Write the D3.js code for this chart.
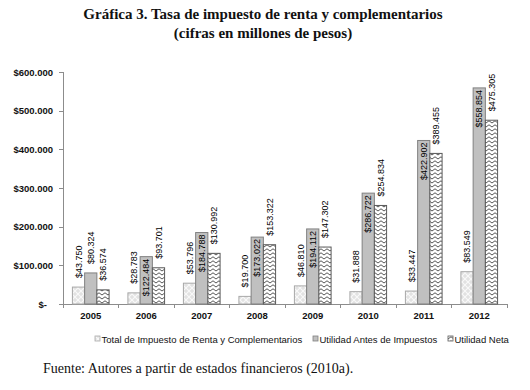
<!DOCTYPE html>
<html>
<head>
<meta charset="utf-8">
<script src="https://cdn.jsdelivr.net/npm/d3@7"></script>
<style>
  body { margin: 0; background: #fff; }
  svg { display: block; }
  .axis path, .axis line { stroke: #8c8c8c; shape-rendering: crispEdges; }
  .axis text { font-family: "Liberation Sans", Arial, sans-serif; font-size: 9.5px; font-weight: bold; fill: #111; }
</style>
</head>
<body>
<div id="chart"></div>
<script>
// data (millones de pesos)
var years = ["2005", "2006", "2007", "2008", "2009", "2010", "2011", "2012"];
var seriesNames = ["Total de Impuesto de Renta y Complementarios", "Utilidad Antes de Impuestos", "Utilidad Neta"];
var impuesto = [43750, 28783, 53796, 19700, 46810, 31888, 33447, 83549];
var utilidadAntes = [80324, 122484, 184788, 173022, 194112, 286722, 422902, 558854];
var utilidadNeta = [36574, 93701, 130992, 153322, 147302, 254834, 389455, 475305];
var yTicks = [0, 100000, 200000, 300000, 400000, 500000, 600000];

var seriesValues = [impuesto, utilidadAntes, utilidadNeta];

var width = 530, height = 390;
var margin = { top: 72, left: 63, right: 23, bottom: 86 };

var svg = d3.select("#chart").append("svg")
    .attr("width", width)
    .attr("height", height);

// patterns
var defs = svg.append("defs");
var p1 = defs.append("pattern")
    .attr("id", "cross")
    .attr("patternUnits", "userSpaceOnUse")
    .attr("width", 6).attr("height", 6);
p1.append("rect").attr("width", 6).attr("height", 6).attr("fill", "#e2e2e2");
p1.append("path").attr("d", "M0,0L6,6M6,0L0,6")
    .attr("stroke", "#f9f9f9").attr("stroke-width", 1.2);

var p3 = defs.append("pattern")
    .attr("id", "zigzag")
    .attr("patternUnits", "userSpaceOnUse")
    .attr("width", 6).attr("height", 4);
p3.append("rect").attr("width", 6).attr("height", 4).attr("fill", "#fff");
p3.append("path").attr("d", "M0,3L3,0.8L6,3")
    .attr("fill", "none").attr("stroke", "#444").attr("stroke-width", 0.9);

var fills = ["url(#cross)", "#c0c0c0", "url(#zigzag)"];
var strokes = ["#a8a8a8", "#808080", "#5a5a5a"];

// scales
var x = d3.scaleBand()
    .domain(years)
    .range([margin.left, width - margin.right]);
var x1 = d3.scaleBand()
    .domain(d3.range(3))
    .range([0, x.bandwidth()])
    .paddingOuter(0.77);
var y = d3.scaleLinear()
    .domain([0, 600000])
    .range([height - margin.bottom, margin.top]);

function money(v) {
    if (v === 0) return "$-";
    return "$" + d3.format(",")(v).replace(/,/g, ".");
}

// axes
var yAxis = d3.axisLeft(y)
    .tickValues(yTicks)
    .tickSize(4)
    .tickPadding(6)
    .tickFormat(money);
var gy = svg.append("g")
    .attr("class", "axis")
    .attr("transform", "translate(" + margin.left + ",0)")
    .call(yAxis);
gy.selectAll(".tick").filter(function(d) { return d === 0; })
    .select("text").attr("dx", -6);

var xAxis = d3.axisBottom(x).tickSize(0).tickPadding(8);
var gx = svg.append("g")
    .attr("class", "axis")
    .attr("transform", "translate(0," + y(0) + ")")
    .call(xAxis);
gx.select(".domain").attr("d", "M" + margin.left + ",0H" + (width - margin.right));
gx.selectAll(".boundary")
    .data(d3.range(years.length + 1))
    .enter().append("line")
    .attr("x1", function(i) { return margin.left + i * x.bandwidth(); })
    .attr("x2", function(i) { return margin.left + i * x.bandwidth(); })
    .attr("y1", 0).attr("y2", 4)
    .attr("stroke", "#8c8c8c");

// bars
var rows = [];
years.forEach(function(yr, i) {
    seriesValues.forEach(function(vals, s) {
        rows.push({ year: yr, s: s, value: vals[i] });
    });
});

svg.append("g").selectAll("rect")
    .data(rows)
    .enter().append("rect")
    .attr("x", function(d) { return x(d.year) + x1(d.s); })
    .attr("y", function(d) { return y(d.value); })
    .attr("width", x1.bandwidth())
    .attr("height", function(d) { return y(0) - y(d.value); })
    .attr("fill", function(d) { return fills[d.s]; })
    .attr("stroke", function(d) { return strokes[d.s]; })
    .attr("stroke-width", 1);

// data labels (rotated), Utilidad Antes inside the bar when it fits
function isInside(d) { return d.s === 1 && y(0) - y(d.value) > 40; }

svg.append("g").selectAll("text")
    .data(rows)
    .enter().append("text")
    .attr("transform", function(d) {
        var cx = x(d.year) + x1(d.s) + x1.bandwidth() / 2;
        var ty = isInside(d) ? y(d.value) + 2 : y(d.value) - 9;
        return "translate(" + cx + "," + ty + ") rotate(-90)";
    })
    .attr("text-anchor", function(d) { return isInside(d) ? "end" : "start"; })
    .attr("dy", "0.35em")
    .style("font-family", "'Liberation Sans', Arial, sans-serif")
    .style("font-size", "9px")
    .style("fill", "#000")
    .text(function(d) { return money(d.value); });

// legend
var legendX = [95, 313, 448];
var legend = svg.append("g").selectAll("g")
    .data(seriesNames)
    .enter().append("g")
    .attr("transform", function(d, i) { return "translate(" + legendX[i] + ",336)"; });
legend.append("rect")
    .attr("width", 5).attr("height", 5)
    .attr("fill", function(d, i) { return fills[i]; })
    .attr("stroke", function(d, i) { return strokes[i]; })
    .attr("stroke-width", 0.8);
legend.append("text")
    .attr("x", 6.5).attr("y", 6.5)
    .style("font-family", "'Liberation Sans', Arial, sans-serif")
    .style("font-size", "9.5px")
    .style("fill", "#111")
    .text(function(d) { return d; });

// title
var title = svg.append("text")
    .attr("text-anchor", "middle")
    .style("font-family", "'Liberation Serif', 'Times New Roman', serif")
    .style("font-size", "15px")
    .style("font-weight", "bold")
    .style("fill", "#111");
title.append("tspan").attr("x", 263).attr("y", 19)
    .text("Gráfica 3. Tasa de impuesto de renta y complementarios");
title.append("tspan").attr("x", 263).attr("y", 38)
    .text("(cifras en millones de pesos)");

// source
svg.append("text")
    .attr("x", 43).attr("y", 373)
    .style("font-family", "'Liberation Serif', 'Times New Roman', serif")
    .style("font-size", "14px")
    .style("fill", "#111")
    .text("Fuente: Autores a partir de estados financieros (2010a).");
</script>
</body>
</html>
